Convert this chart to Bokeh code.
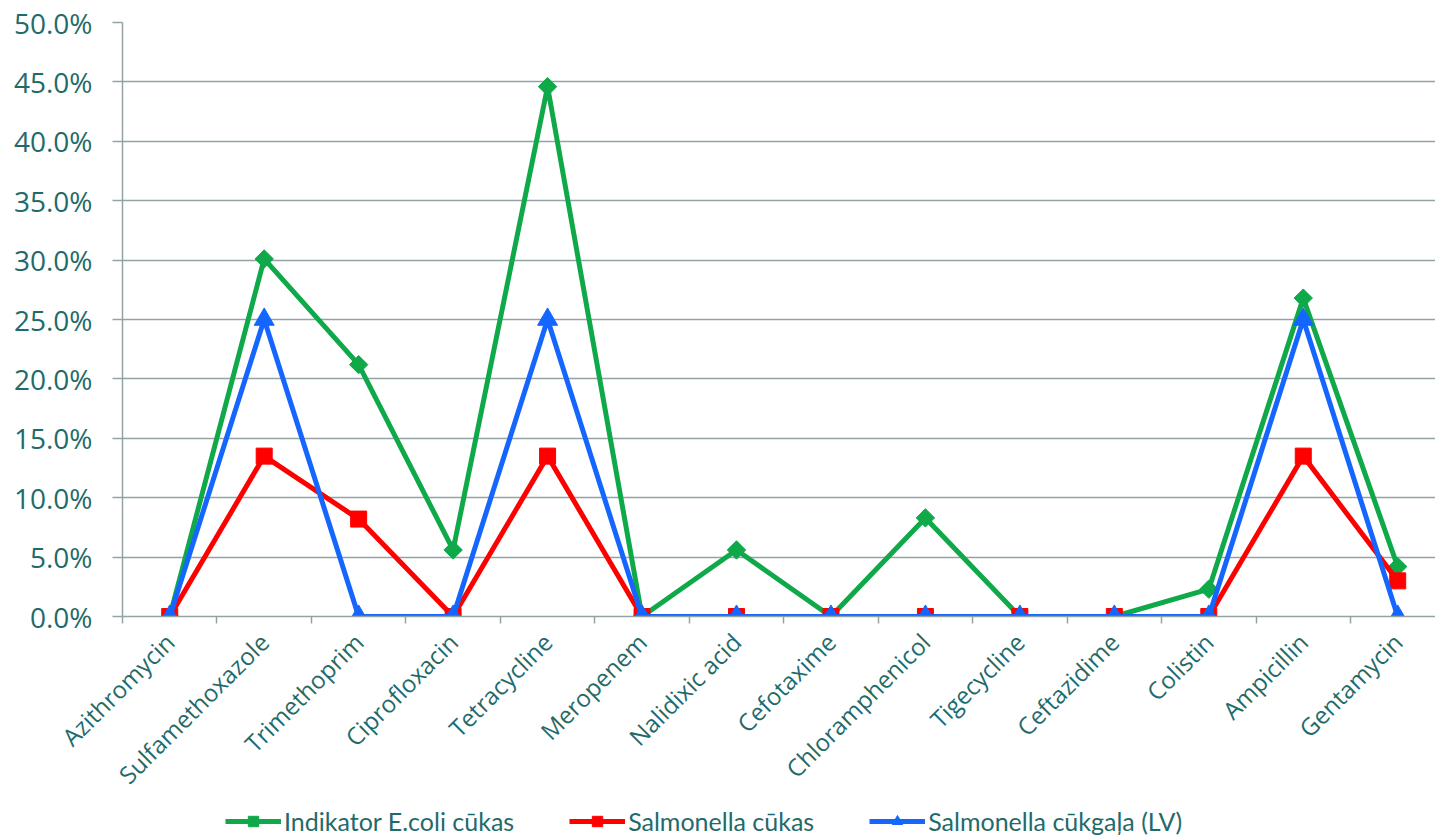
import math
from bokeh.plotting import figure
from bokeh.layouts import column
from bokeh.models import (FixedTicker, PrintfTickFormatter, Range1d, Legend, LegendItem,
                          ColumnDataSource)
from bokeh.embed import file_html
from bokeh.resources import INLINE

categories = ["Azithromycin", "Sulfamethoxazole", "Trimethoprim", "Ciprofloxacin",
              "Tetracycline", "Meropenem", "Nalidixic acid", "Cefotaxime",
              "Chloramphenicol", "Tigecycline", "Ceftazidime", "Colistin",
              "Ampicillin", "Gentamycin"]
ecoli_pigs = [0.0, 30.1, 21.2, 5.6, 44.6, 0.0, 5.6, 0.0, 8.3, 0.0, 0.0, 2.3, 26.8, 4.2]
salm_pigs = [0.0, 13.5, 8.2, 0.0, 13.5, 0.0, 0.0, 0.0, 0.0, 0.0, 0.0, 0.0, 13.5, 3.0]
salm_pork = [0.0, 25.0, 0.0, 0.0, 25.0, 0.0, 0.0, 0.0, 0.0, 0.0, 0.0, 0.0, 25.0, 0.0]
series_names = ["Indikator E.coli cūkas", "Salmonella cūkas", "Salmonella cūkgaļa (LV)"]
y_ticks = [0, 5, 10, 15, 20, 25, 30, 35, 40, 45, 50]

xs = list(range(len(categories)))
TEXT = "#1F6B6A"
GRID = "#93A3A3"

p = figure(width=1435, height=805, output_backend="svg", toolbar_location=None,
           x_range=Range1d(-0.5, 13.4), y_range=Range1d(0, 50),
           min_border_left=122, min_border_top=22, min_border_right=0, min_border_bottom=182)
p.outline_line_color = None
p.xgrid.grid_line_color = None
p.ygrid.grid_line_color = GRID
p.ygrid.grid_line_width = 1.5
p.ygrid.ticker = FixedTicker(ticks=y_ticks)

p.yaxis.ticker = FixedTicker(ticks=y_ticks)
p.yaxis.formatter = PrintfTickFormatter(format="%.1f%%")
p.yaxis.major_label_text_font = "Open Sans"
p.yaxis.major_label_text_font_size = "28px"
p.yaxis.major_label_text_color = TEXT
p.yaxis.axis_line_color = GRID
p.yaxis.axis_line_width = 1.5
p.yaxis.major_tick_line_color = GRID
p.yaxis.major_tick_line_width = 1.5
p.yaxis.major_tick_out = 10
p.yaxis.major_tick_in = 0
p.yaxis.minor_tick_line_color = None
p.yaxis.major_label_standoff = 20

p.xaxis.ticker = FixedTicker(ticks=xs, minor_ticks=[i - 0.5 for i in range(len(categories) + 1)])
p.xaxis.major_label_overrides = {i: c for i, c in enumerate(categories)}
p.xaxis.major_label_orientation = math.pi / 4
p.xaxis.major_label_text_font = "Open Sans"
p.xaxis.major_label_text_font_size = "24px"
p.xaxis.major_label_text_color = TEXT
p.xaxis.major_label_standoff = 14
p.xaxis.axis_line_color = GRID
p.xaxis.axis_line_width = 1.5
p.xaxis.major_tick_line_color = None
p.xaxis.minor_tick_line_color = GRID
p.xaxis.minor_tick_line_width = 1.5
p.xaxis.minor_tick_out = 7
p.xaxis.minor_tick_in = 0

specs = [
    (ecoli_pigs, "#10A94A", "square", 13, math.pi / 4),
    (salm_pigs, "#FF0000", "square", 16, 0.0),
    (salm_pork, "#1466FF", "triangle", 20, 0.0),
]

# legend strip: a small figure below the chart that only carries the legend
lg = figure(width=1435, height=34, output_backend="svg", toolbar_location=None,
            x_range=Range1d(-0.5, 13.4), y_range=Range1d(1000, 1001),
            x_axis_type=None, y_axis_type=None, min_border=0)
lg.outline_line_color = None
lg.xgrid.grid_line_color = None
lg.ygrid.grid_line_color = None

legend_items = []
for name, (vals, color, marker, size, ang) in zip(series_names, specs):
    src = ColumnDataSource(dict(x=xs, y=vals))
    p.line("x", "y", source=src, line_color=color, line_width=5)
    p.scatter("x", "y", source=src, marker=marker, size=size, angle=ang,
              fill_color=color, line_color=color)
    l = lg.line("x", "y", source=src, line_color=color, line_width=5)
    s = lg.scatter("x", "y", source=src, marker=marker, size=size, angle=ang,
                   fill_color=color, line_color=color)
    legend_items.append(LegendItem(label=name, renderers=[l, s]))

legend = Legend(items=legend_items, orientation="horizontal", location=(103, 3),
                label_text_font="Lato", label_text_font_size="25px",
                label_text_color=TEXT, border_line_color=None, background_fill_alpha=0,
                glyph_width=56, glyph_height=26, spacing=55, padding=0, margin=0,
                label_standoff=3, label_height=28)
lg.add_layout(legend, "center")

layout = column(p, lg, spacing=0)
open("out.html", "w").write(file_html(layout, INLINE))
